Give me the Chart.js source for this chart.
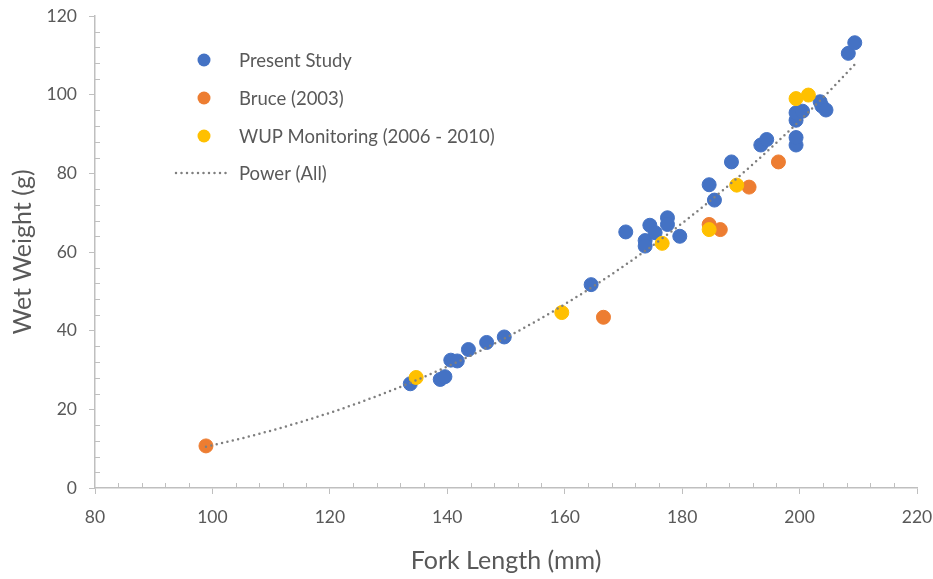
<!DOCTYPE html>
<html>
<head>
<meta charset="utf-8">
<script src="https://cdn.jsdelivr.net/npm/chart.js@4.4.1/dist/chart.umd.min.js"></script>
<style>
  html, body { margin: 0; padding: 0; background: #fff; }
  #wrap { width: 933px; height: 579px; position: relative; }
</style>
</head>
<body>
<div id="wrap"><canvas id="chart"></canvas></div>
<script>
// Series values (fork length mm, wet weight g)
const presentX = [133.7, 138.8, 139.6, 140.6, 141.7, 143.6, 146.7, 149.7, 164.5, 170.4, 173.7, 173.7, 174.5, 175.4, 177.5, 177.5, 179.6, 184.6, 185.5, 188.4, 193.4, 194.4, 199.4, 199.4, 199.4, 199.4, 200.5, 203.5, 203.8, 204.5, 208.3, 209.4];
const presentY = [26.5, 27.6, 28.3, 32.5, 32.3, 35.2, 37.0, 38.4, 51.7, 65.1, 62.9, 61.5, 66.8, 64.9, 68.7, 67.0, 64.0, 77.1, 73.2, 82.9, 87.2, 88.6, 87.2, 89.1, 93.5, 95.4, 95.8, 98.2, 97.1, 96.1, 110.5, 113.2];

const bruceX = [98.9, 166.6, 184.6, 186.5, 191.4, 196.4];
const bruceY = [10.7, 43.4, 67.0, 65.7, 76.5, 82.9];

const wupX = [134.7, 159.5, 176.6, 184.6, 189.3, 199.4, 201.5];
const wupY = [28.1, 44.6, 62.2, 65.7, 77.0, 99.0, 99.9];

const seriesNames = ["Present Study", "Bruce (2003)", "WUP Monitoring (2006 - 2010)", "Power (All)"];
const seriesColors = ["#4472C4", "#ED7D31", "#FFC000", "#7F7F7F"];

const xTicks = [80, 100, 120, 140, 160, 180, 200, 220];
const yTicks = [0, 20, 40, 60, 80, 100, 120];

const FONT = "Lato, 'Open Sans', sans-serif";
const TEXT = "#595959";
const AXIS = "#BFBFBF";

function toPoints(xs, ys) {
  return xs.map((x, i) => ({ x: x, y: ys[i] }));
}

// Power trendline fitted to all points, like Excel (least squares on ln x, ln y)
function powerFit() {
  const xs = presentX.concat(bruceX, wupX);
  const ys = presentY.concat(bruceY, wupY);
  const n = xs.length;
  let sx = 0, sy = 0, sxx = 0, sxy = 0;
  for (let i = 0; i < n; i++) {
    const lx = Math.log(xs[i]), ly = Math.log(ys[i]);
    sx += lx; sy += ly; sxx += lx * lx; sxy += lx * ly;
  }
  const b = (n * sxy - sx * sy) / (n * sxx - sx * sx);
  const a = Math.exp((sy - b * sx) / n);
  const lo = Math.min(...xs), hi = Math.max(...xs);
  const pts = [];
  for (let k = 0; k <= 60; k++) {
    const x = lo + (hi - lo) * k / 60;
    pts.push({ x: x, y: a * Math.pow(x, b) });
  }
  return pts;
}

// Minor tick marks (inside) every 4 units, like the original
const minorTicks = {
  id: "minorTicks",
  afterDraw(chart) {
    const ctx = chart.ctx;
    const xs = chart.scales.x, ys = chart.scales.y;
    ctx.save();
    ctx.strokeStyle = AXIS;
    ctx.lineWidth = 1;
    ctx.beginPath();
    for (let v = 84; v < 220; v += 4) {
      if (v % 20 === 0) continue;
      const px = Math.round(xs.getPixelForValue(v)) + 0.5;
      ctx.moveTo(px, ys.bottom);
      ctx.lineTo(px, ys.bottom - 5);
    }
    for (let v = 4; v < 120; v += 4) {
      if (v % 20 === 0) continue;
      const py = Math.round(ys.getPixelForValue(v)) + 0.5;
      ctx.moveTo(xs.left, py);
      ctx.lineTo(xs.left + 5, py);
    }
    ctx.stroke();
    ctx.restore();
  }
};

// Legend drawn inside the plot, top left
const insideLegend = {
  id: "insideLegend",
  afterDraw(chart) {
    const ctx = chart.ctx;
    const rows = [60, 98, 136, 173];
    ctx.save();
    ctx.font = "18.5px " + FONT;
    ctx.fillStyle = TEXT;
    ctx.textBaseline = "middle";
    seriesNames.forEach((name, i) => {
      const y = rows[i];
      if (i < 3) {
        ctx.beginPath();
        ctx.arc(204, y, 6.5, 0, Math.PI * 2);
        ctx.fillStyle = seriesColors[i];
        ctx.fill();
      } else {
        ctx.beginPath();
        ctx.strokeStyle = seriesColors[3];
        ctx.lineWidth = 2.5;
        ctx.lineCap = "round";
        ctx.setLineDash([0, 5.5]);
        ctx.moveTo(176, y);
        ctx.lineTo(230, y);
        ctx.stroke();
        ctx.setLineDash([]);
      }
      ctx.fillStyle = TEXT;
      ctx.fillText(name, 239, y + 1);
    });
    ctx.restore();
  }
};

function scatterSet(i, xs, ys, order) {
  return {
    label: seriesNames[i],
    data: toPoints(xs, ys),
    showLine: false,
    pointRadius: 7,
    pointHoverRadius: 7,
    pointBackgroundColor: seriesColors[i],
    pointBorderColor: seriesColors[i],
    pointBorderWidth: 1,
    order: order
  };
}

new Chart(document.getElementById("chart"), {
  type: "scatter",
  data: {
    datasets: [
      scatterSet(0, presentX, presentY, 3),
      scatterSet(1, bruceX, bruceY, 2),
      scatterSet(2, wupX, wupY, 1),
      {
        label: seriesNames[3],
        data: powerFit(),
        showLine: true,
        pointRadius: 0,
        borderColor: seriesColors[3],
        borderWidth: 2.5,
        borderDash: [0, 5.5],
        borderCapStyle: "round",
        tension: 0,
        order: 0
      }
    ]
  },
  options: {
    responsive: true,
    maintainAspectRatio: false,
    animation: false,
    layout: { padding: { top: 16, right: 16, left: 0, bottom: 0 } },
    plugins: { legend: { display: false }, tooltip: { enabled: false } },
    scales: {
      x: {
        type: "linear",
        min: 80,
        max: 220,
        afterBuildTicks: s => { s.ticks = xTicks.map(v => ({ value: v })); },
        afterFit: s => { s.height = 91; s.paddingLeft = 0; s.paddingRight = 0; },
        border: { color: AXIS, width: 1.5 },
        grid: { drawOnChartArea: false, drawTicks: true, tickLength: 6, color: AXIS },
        ticks: { color: TEXT, font: { family: FONT, size: 17.5 }, padding: 13 },
        title: { display: true, text: "Fork Length (mm)", color: TEXT, font: { family: FONT, size: 25 }, padding: { top: 0, bottom: 3 } }
      },
      y: {
        type: "linear",
        min: 0,
        max: 120,
        afterBuildTicks: s => { s.ticks = yTicks.map(v => ({ value: v })); },
        afterFit: s => { s.width = 95; s.paddingTop = 0; s.paddingBottom = 0; },
        border: { color: AXIS, width: 1.5 },
        grid: { drawOnChartArea: false, drawTicks: true, tickLength: 6, color: AXIS },
        ticks: { color: TEXT, font: { family: FONT, size: 17.5 }, padding: 12 },
        title: { display: true, text: "Wet Weight (g)", color: TEXT, font: { family: FONT, size: 25 }, padding: { top: 8, bottom: 0 } }
      }
    }
  },
  plugins: [minorTicks, insideLegend]
});
</script>
</body>
</html>
